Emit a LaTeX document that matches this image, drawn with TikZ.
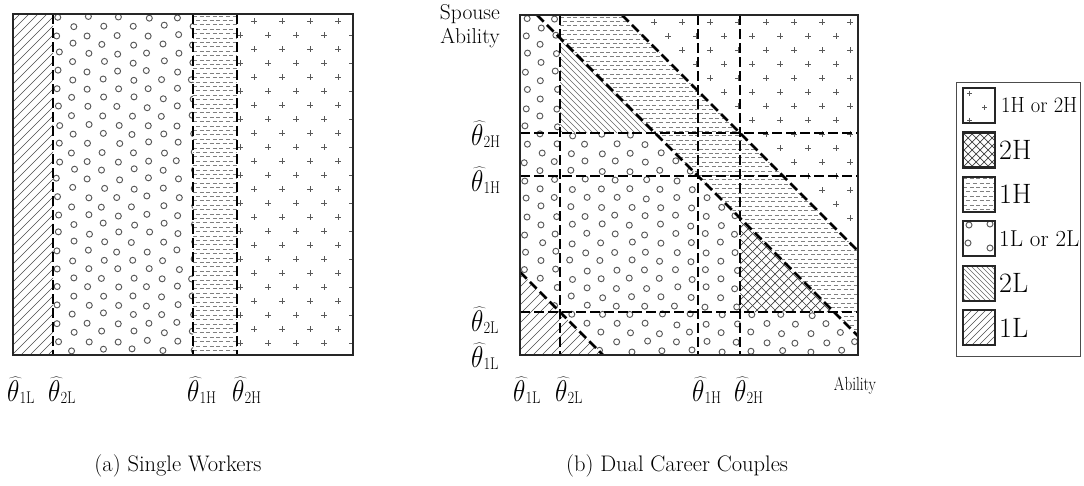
\documentclass[tikz,border=0pt]{standalone}
\usepackage{fix-cm}
\usepackage{graphicx}
\tikzset{
  boxframe/.style={line width=1.8pt, draw=black!85},
  sepline/.style={line width=2.7pt, dash pattern=on 9.5pt off 4.5pt, draw=black},
  circ/.style={draw=black!65, line width=0.95pt},
  plusmark/.style={draw=black!65, line width=0.75pt},
  dashmark/.style={draw=black!50, line width=0.75pt},
  nehatch/.style={draw=black!70, line width=0.6pt},
  nwhatch/.style={draw=black!60, line width=0.5pt},
  xhatch/.style={draw=black!75, line width=0.7pt},
  thlab/.style={inner sep=0pt, anchor=base west},
  captxt/.style={font=\fontsize{22.5}{26}\selectfont, inner sep=0pt},
  axlab/.style={font=\fontsize{21.5}{24}\selectfont, inner sep=0pt, anchor=base east},
  legbig/.style={anchor=west, inner sep=0pt, font=\fontsize{28}{30}\selectfont},
  legsq/.style={line width=2.2pt, draw=black!85},
  legframe/.style={line width=1pt, draw=black!70},
}
% circles: origin x, origin y, number of columns
\newcommand\PatCirc[3]{\foreach \j in {0,...,38}{\foreach \i in {0,...,#3}{%
  \pgfmathsetmacro\cx{#1+30*\i+15*mod(\j,2)+1.8*rand}%
  \pgfmathsetmacro\cy{#2+9*\j+1.2*rand}%
  \draw[circ] (\cx,\cy) circle[radius=3];}}}
% plus signs: origin x, origin y, number of columns
\newcommand\PatPlus[3]{\foreach \j in {0,...,25}{\foreach \i in {0,...,#3}{%
  \pgfmathsetmacro\cx{#1+28*\i+14*mod(\j,2)}%
  \pgfmathsetmacro\cy{#2+14*\j}%
  \draw[plusmark] (\cx-2.6,\cy) -- (\cx+2.6,\cy) (\cx,\cy-2.6) -- (\cx,\cy+2.6);}}}
% short dashes: xmin, ymin, xmax, rows
\newcommand\PatDash[4]{\foreach \j in {0,...,#4}{%
  \pgfmathsetmacro\cy{#2+4.4*\j}%
  \pgfmathsetmacro\ph{3.3*mod(\j,2)}%
  \draw[dashmark,dash pattern=on 4pt off 2.6pt,dash phase=\ph pt] (#1,\cy) -- (#3,\cy);}}
% hatch lines: first, second, last
\newcommand\PatNE[4][nehatch]{\foreach \k in {#2,#3,...,#4}{\draw[#1] (\k,400) -- ({\k+400},0);}}
\newcommand\PatNW[4][nwhatch]{\foreach \k in {#2,#3,...,#4}{\draw[#1] (\k,0) -- ({\k+400},400);}}
\newcommand\thlabel[1]{\scalebox{0.85}[1]{\fontsize{30}{32}\selectfont$\widehat{\theta}$\raisebox{-2pt}{\fontsize{17}{17}\selectfont #1}}}
\begin{document}
\pgfmathsetseed{7}
\begin{tikzpicture}[x=1pt,y=-1pt]
\useasboundingbox (0,0) rectangle (1084,485);
% ================= (a) single workers
\begin{scope}\clip (53,14) rectangle (193,355); \PatCirc{58}{17}{5}\end{scope}
\begin{scope}\clip (13,14) rectangle (53,355); \PatNE{-420}{-411}{100}\end{scope}
\begin{scope}\clip (193,14) rectangle (237,355); \PatDash{193}{16}{237}{78}\end{scope}
\begin{scope}\clip (237,14) rectangle (353,355); \PatPlus{240}{7}{5}\end{scope}
\draw[sepline] (53,14) -- (53,355);
\draw[sepline] (193,14) -- (193,355);
\draw[sepline] (237,14) -- (237,355);
\draw[boxframe] (13,14) rectangle (353,355);
\node[thlab] (a1L) at (7,401) {\thlabel{1L}};
\node[thlab] (a2L) at (48,401) {\thlabel{2L}};
\node[thlab] (a1H) at (187,401) {\thlabel{1H}};
\node[thlab] (a2H) at (232,401) {\thlabel{2H}};
\node[captxt] (capa) at (178,466) {(a) Single Workers};
% ================= (b) dual career couples
\begin{scope}\clip (520,15) rectangle (858,355); \PatCirc{526}{18}{12}\end{scope}
% 1H or 2H
\fill[white] (622,15) -- (858,15) -- (858,251) -- cycle;
\begin{scope}\clip (622,15) -- (858,15) -- (858,251) -- cycle; \PatPlus{626}{22}{8}\end{scope}
% 1H
\fill[white] (560,15) -- (622,15) -- (858,251) -- (858,336) -- (560,38) -- cycle;
\begin{scope}\clip (560,15) -- (622,15) -- (858,251) -- (858,336) -- (560,38) -- cycle;
  \PatDash{560}{17}{858}{75}\end{scope}
% 2L
\fill[white] (560,38) -- (560,133) -- (655,133) -- cycle;
\begin{scope}\clip (560,38) -- (560,133) -- (655,133) -- cycle; \PatNW{400}{406}{640}\end{scope}
% 2H
\fill[white] (740,218) -- (740,312) -- (834,312) -- cycle;
\begin{scope}\clip (740,218) -- (740,312) -- (834,312) -- cycle;
  \PatNW[xhatch]{420}{429}{630}\PatNE[xhatch]{550}{559}{760}\end{scope}
% 1L
\fill[white] (520,272) -- (520,355) -- (603,355) -- cycle;
\begin{scope}\clip (520,272) -- (520,355) -- (603,355) -- cycle; \PatNE{380}{389}{580}\end{scope}
% separators
\draw[sepline] (560,15) -- (560,355);
\draw[sepline] (698,15) -- (698,355);
\draw[sepline] (740,15) -- (740,355);
\draw[sepline] (520,133) -- (858,133);
\draw[sepline] (520,176) -- (858,176);
\draw[sepline] (520,312) -- (858,312);
\draw[sepline] (537,15) -- (858,336);
\draw[sepline] (622,15) -- (858,251);
\draw[sepline] (520,272) -- (603,355);
\draw[boxframe] (520,15) rectangle (858,355);
\node[thlab] (b1L) at (513,401) {\thlabel{1L}};
\node[thlab] (b2L) at (555,401) {\thlabel{2L}};
\node[thlab] (b1H) at (692,401) {\thlabel{1H}};
\node[thlab] (b2H) at (734,401) {\thlabel{2H}};
\node[thlab] (v2H) at (471,145) {\thlabel{2H}};
\node[thlab] (v1H) at (471,191) {\thlabel{1H}};
\node[thlab] (v2L) at (471,331) {\thlabel{2L}};
\node[thlab] (v1L) at (471,367) {\thlabel{1L}};
\node[axlab] (sp1) at (500,19) {Spouse};
\node[axlab] (sp2) at (500,43) {Ability};
\node[inner sep=0pt, font=\fontsize{19}{21}\selectfont] (abil) at (855,386) {\scalebox{0.8}[1]{Ability}};
\node[captxt] (capb) at (677,466) {(b) Dual Career Couples};
% ================= legend
\draw[legframe] (956,82) rectangle (1080,356);
% 1H or 2H
\draw[plusmark] (967,93) -- (972,93) (969.5,90.5) -- (969.5,95.5);
\draw[plusmark] (982,107) -- (987,107) (984.5,104.5) -- (984.5,109.5);
\draw[plusmark] (967,120) -- (972,120) (969.5,117.5) -- (969.5,122.5);
\draw[legsq] (963,88) rectangle (995,123);
\node[anchor=west, inner sep=0pt, font=\fontsize{22}{24}\selectfont] (l1) at (1001,105.5) {\scalebox{0.93}[1]{1H or 2H}};
% 2H
\begin{scope}\clip (963,132.4) rectangle (995,167.4);
  \PatNW[xhatch]{790}{798}{870}\PatNE[xhatch]{690}{698}{770}\end{scope}
\draw[legsq] (963,132.4) rectangle (995,167.4);
\node[legbig] (l2) at (999,150) {2H};
% 1H
\begin{scope}\clip (963,176.8) rectangle (995,211.8); \PatDash{963}{178.5}{995}{8}\end{scope}
\draw[legsq] (963,176.8) rectangle (995,211.8);
\node[legbig] (l3) at (999,194.3) {1H};
% 1L or 2L
\draw[circ] (969,225) circle[radius=3];
\draw[circ] (990,224) circle[radius=3];
\draw[circ] (968,243) circle[radius=3];
\draw[circ] (990,248) circle[radius=3];
\draw[legsq] (963,221.2) rectangle (995,256.2);
\node[anchor=west, inner sep=0pt, font=\fontsize{23}{25}\selectfont] (l4) at (999,238.7) {1L or 2L};
% 2L
\begin{scope}\clip (963,265.6) rectangle (995,300.6); \PatNW{640}{645}{740}\end{scope}
\draw[legsq] (963,265.6) rectangle (995,300.6);
\node[legbig] (l5) at (999,283.1) {2L};
% 1L
\begin{scope}\clip (963,310) rectangle (995,345); \PatNE{840}{847}{1000}\end{scope}
\draw[legsq] (963,310) rectangle (995,345);
\node[legbig] (l6) at (999,327.5) {1L};
\end{tikzpicture}
\end{document}
